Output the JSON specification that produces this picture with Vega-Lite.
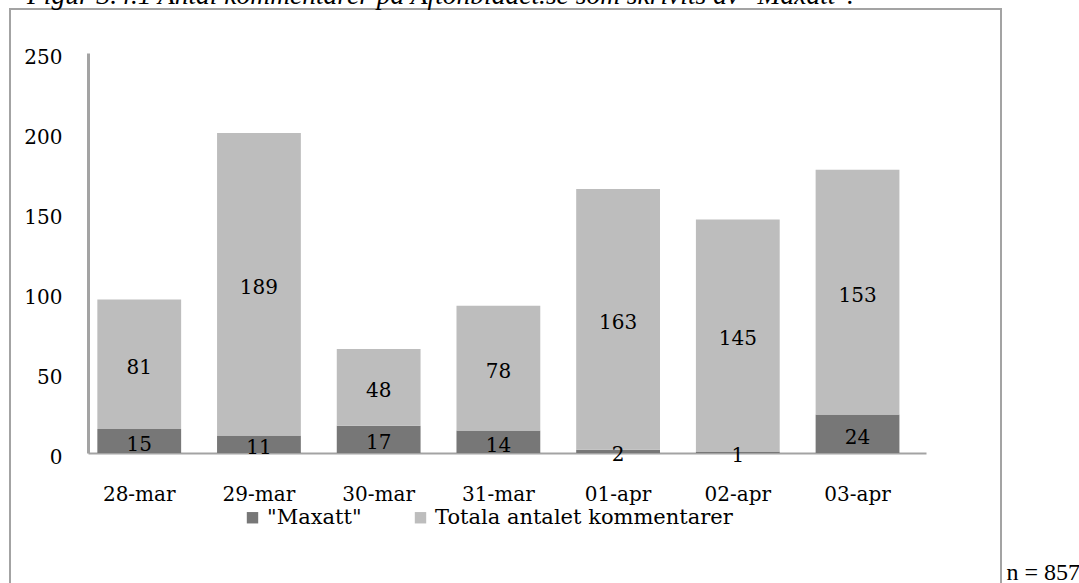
{
  "$schema": "https://vega.github.io/schema/vega-lite/v6.json",
  "autosize": "none",
  "width": 991,
  "height": 580,
  "padding": {"left": 10, "top": 9, "right": 78, "bottom": 0},
  "background": "white",
  "title": {
    "text": "Figur 3.4.1 Antal kommentarer på Aftonbladet.se som skrivits av \"Maxatt\".",
    "anchor": "start",
    "frame": "group",
    "font": "Liberation Serif",
    "fontStyle": "italic",
    "fontWeight": "normal",
    "fontSize": 27.5,
    "color": "#000000",
    "baseline": "alphabetic",
    "offset": 0,
    "dy": 22,
    "dx": 17
  },
  "config": {
    "view": {"stroke": "#a3a3a3", "strokeWidth": 2},
    "font": "DejaVu Serif"
  },
  "data": {
    "values": [
      {"date": "28-mar", "series": "\"Maxatt\"", "value": 15},
      {"date": "28-mar", "series": "Totala antalet kommentarer", "value": 81},
      {"date": "29-mar", "series": "\"Maxatt\"", "value": 11},
      {"date": "29-mar", "series": "Totala antalet kommentarer", "value": 189},
      {"date": "30-mar", "series": "\"Maxatt\"", "value": 17},
      {"date": "30-mar", "series": "Totala antalet kommentarer", "value": 48},
      {"date": "31-mar", "series": "\"Maxatt\"", "value": 14},
      {"date": "31-mar", "series": "Totala antalet kommentarer", "value": 78},
      {"date": "01-apr", "series": "\"Maxatt\"", "value": 2},
      {"date": "01-apr", "series": "Totala antalet kommentarer", "value": 163},
      {"date": "02-apr", "series": "\"Maxatt\"", "value": 1},
      {"date": "02-apr", "series": "Totala antalet kommentarer", "value": 145},
      {"date": "03-apr", "series": "\"Maxatt\"", "value": 24},
      {"date": "03-apr", "series": "Totala antalet kommentarer", "value": 153}
    ]
  },
  "transform": [
    {"stack": "value", "groupby": ["date"], "sort": [{"field": "series", "order": "ascending"}], "as": ["v0", "v1"]},
    {"calculate": "(datum.v0 + datum.v1) / 2", "as": "mid"}
  ],
  "encoding": {
    "x": {
      "field": "date",
      "type": "nominal",
      "sort": null,
      "scale": {"range": [78, 916], "paddingInner": 0.3, "paddingOuter": 0.15, "align": 0.26},
      "axis": {
        "orient": "bottom",
        "offset": -136,
        "title": "n = 857",
        "titleX": 996,
        "titleY": 126,
        "titleAlign": "left",
        "titleBaseline": "alphabetic",
        "titleAnchor": null,
        "titleFont": "Liberation Serif",
        "titleFontSize": 24,
        "titleFontWeight": "normal",
        "titleColor": "#000000",
        "labelAngle": 0,
        "labelFontSize": 20,
        "labelColor": "#000000",
        "labelPadding": 31,
        "ticks": false,
        "domainColor": "#a3a3a3",
        "domainWidth": 2
      }
    },
    "y": {
      "field": "v0",
      "type": "quantitative",
      "scale": {"domain": [0, 250], "range": [444, 44], "nice": false, "zero": true},
      "axis": {
        "orient": "left",
        "offset": -78,
        "title": null,
        "values": [0, 50, 100, 150, 200, 250],
        "labelFontSize": 20,
        "labelColor": "#000000",
        "labelPadding": 26,
        "labelOffset": 4,
        "ticks": false,
        "grid": false,
        "domainColor": "#a3a3a3",
        "domainWidth": 3
      }
    }
  },
  "layer": [
    {
      "mark": {"type": "bar", "stroke": null},
      "encoding": {
        "y2": {"field": "v1"},
        "color": {
          "field": "series",
          "type": "nominal",
          "scale": {"domain": ["\"Maxatt\"", "Totala antalet kommentarer"], "range": ["#777777", "#bdbdbd"]},
          "legend": {
            "title": null,
            "orient": "none",
            "legendX": 232,
            "legendY": 498,
            "direction": "horizontal",
            "symbolType": "square",
            "symbolSize": 130,
            "symbolStrokeWidth": 0,
            "labelFontSize": 21,
            "labelColor": "#000000",
            "labelFont": "DejaVu Serif",
            "labelOffset": 4,
            "labelLimit": 0,
            "columnPadding": 48
          }
        }
      }
    },
    {
      "mark": {"type": "text", "fontSize": 20, "color": "#000000", "baseline": "middle", "dy": 4},
      "encoding": {
        "y": {"field": "mid", "type": "quantitative"},
        "text": {"field": "value", "type": "quantitative"}
      }
    }
  ]
}
